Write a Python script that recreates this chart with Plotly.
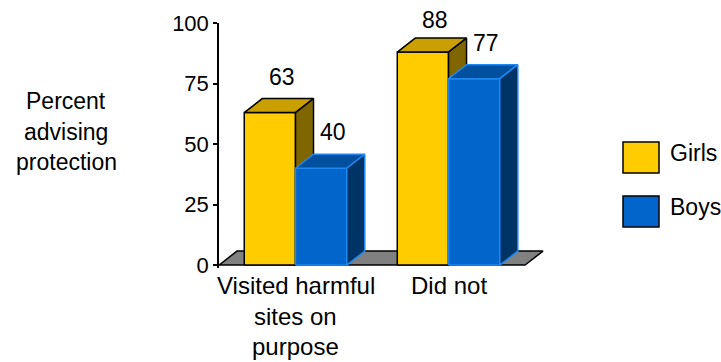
import plotly.graph_objects as go

# ---- data ----
categories = ["Visited harmful<br>sites on<br>purpose", "Did not"]
series_names = ["Girls", "Boys"]
girls = [63, 88]
boys = [40, 77]
y_ticks = [0, 25, 50, 75, 100]
y_title = "Percent<br>advising<br>protection"

# ---- styles ----
FONT = "Liberation Sans, Arial, sans-serif"
FS = 23
FS_CAT = 24
FS_TICK = 22
styles = {
    "Girls": dict(front="#FFCC00", top="#C9A000", side="#7F6600", edge="#000000"),
    "Boys": dict(front="#0066CC", top="#00509F", side="#003366", edge="#1E88F0"),
}
W, H = 721, 362
ML, MR, MT, MB = 219, 173, 23, 94
X0, X1 = -0.5, 1.65
Y0, Y1 = -1.2, 100
pxx = (W - ML - MR) / (X1 - X0)
pxy = (H - MT - MB) / (Y1 - Y0)
DX = 18 / pxx        # depth offset in x units
DY = 14 / pxy        # depth offset in y units
BW = 0.335           # bar width in x units

def px2paper_x(px):
    return (px - ML) / (W - ML - MR)

def px2paper_y(py):
    return (H - MB - py) / (H - MT - MB)

fig = go.Figure()

def poly(xs, ys, fill, edge, lw=1.5):
    fig.add_trace(go.Scatter(
        x=xs + [xs[0]], y=ys + [ys[0]], mode="lines", fill="toself",
        fillcolor=fill, line=dict(color=edge, width=lw),
        hoverinfo="skip", showlegend=False))

# floor
poly([X0, 1.5, 1.5 + DX, X0 + DX], [0, 0, DY, DY], "#808080", "#000000")

def bar3d(x_left, v, st):
    xr = x_left + BW
    poly([x_left, xr, xr, x_left], [0, 0, v, v], st["front"], st["edge"])
    poly([x_left, xr, xr + DX, x_left + DX], [v, v, v + DY, v + DY], st["top"], st["edge"])
    poly([xr, xr + DX, xr + DX, xr], [0, DY, v + DY, v], st["side"], st["edge"])

annotations = []
for i in range(len(categories)):
    for name, vals, off in (("Girls", girls, -BW), ("Boys", boys, 0.0)):
        v = vals[i]
        xl = i + off
        bar3d(xl, v, styles[name])
        back_top_px = MT + (Y1 - (v + DY)) * pxy
        label_px = max(back_top_px - 22, 20)
        annotations.append(dict(x=xl + BW / 2 + 12 / pxx, y=v + DY, xref="x", yref="y",
                                yshift=back_top_px - label_px,
                                text=str(v), showarrow=False, yanchor="middle",
                                font=dict(size=FS, color="#000", family=FONT)))

# category labels (one annotation per line for spacing)
for i, cat in enumerate(categories):
    for k, line in enumerate(cat.split("<br>")):
        annotations.append(dict(x=i, y=px2paper_y(285 + 31 * k), xref="x", yref="paper",
                                text=line, showarrow=False, yanchor="middle",
                                font=dict(size=FS_CAT, color="#000", family=FONT)))

# y title
for k, line in enumerate(y_title.split("<br>")):
    annotations.append(dict(x=px2paper_x(66), y=px2paper_y(101 + 30.5 * k), xref="paper", yref="paper",
                            text=line, showarrow=False, yanchor="middle", xanchor="center",
                            font=dict(size=FS, color="#000", family=FONT)))

# legend
shapes = []
for k, name in enumerate(series_names):
    top = 142 + 54 * k
    shapes.append(dict(type="rect", xref="paper", yref="paper",
                       x0=px2paper_x(623), x1=px2paper_x(659),
                       y0=px2paper_y(top + 31), y1=px2paper_y(top),
                       fillcolor=styles[name]["front"], line=dict(color="#000", width=1.5)))
    annotations.append(dict(x=px2paper_x(668), y=px2paper_y(top + 11), xref="paper", yref="paper",
                            text=name, showarrow=False, xanchor="left", yanchor="middle",
                            font=dict(size=FS, color="#000", family=FONT)))

fig.update_layout(
    width=W, height=H, margin=dict(l=ML, r=MR, t=MT, b=MB),
    paper_bgcolor="white", plot_bgcolor="white",
    xaxis=dict(range=[X0, X1], visible=False, fixedrange=True),
    yaxis=dict(range=[Y0, Y1], tickvals=y_ticks, ticks="outside", ticklen=4,
               tickcolor="#000", tickwidth=1.5, showline=True, linecolor="#000", linewidth=1.5,
               showgrid=False, zeroline=False, tickfont=dict(size=FS_TICK, color="#000", family=FONT),
               fixedrange=True),
    annotations=annotations, shapes=shapes, showlegend=False,
)

fig.write_html("out.html", post_script="document.body.style.margin='0';",
               config={"displayModeBar": False})
